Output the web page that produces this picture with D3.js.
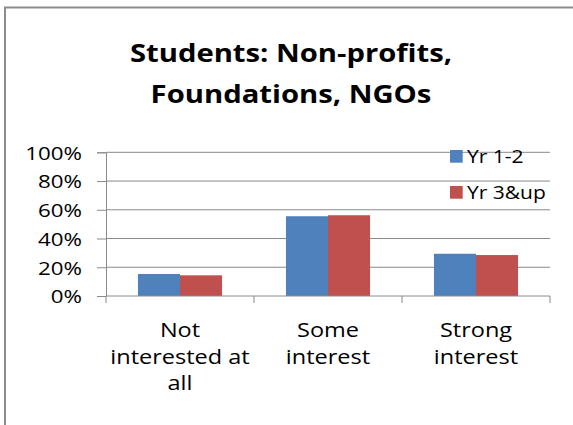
<!DOCTYPE html>
<html>
<head>
<meta charset="utf-8">
<script src="https://cdn.jsdelivr.net/npm/d3@7"></script>
<style>
    body { margin: 0; background: #fff; }
    text { font-family: "Open Sans", sans-serif; fill: #000; }
</style>
</head>
<body>
<svg width="573" height="425"></svg>
<script>
// chart data
let categories = [["Not", "interested at", "all"], ["Some", "interest"], ["Strong", "interest"]];
let series = ["Yr 1-2", "Yr 3&up"];
let yr12 = [0.153, 0.555, 0.294];
let yr3up = [0.144, 0.562, 0.285];
let yTicks = [0, 0.2, 0.4, 0.6, 0.8, 1.0];
let titleLines = ["Students: Non-profits,", "Foundations, NGOs"];
let colors = ["#4f81bd", "#c0504d"];

const stretch = 1.2; // reference text is wider than the font
let svg = d3.select("svg");

// outer frame
svg.append("rect")
    .attr("x", 5).attr("y", 7.5)
    .attr("width", 620).attr("height", 460)
    .attr("fill", "#fff").attr("stroke", "#8c8c8c").attr("stroke-width", 2);

// title
svg.append("g").selectAll("text").data(titleLines).enter().append("text")
    .attr("transform", (d, i) => `translate(291,${62 + i * 40.5}) scale(1.17,1)`)
    .attr("text-anchor", "middle")
    .style("font-weight", "bold").style("font-size", "25px")
    .text(d => d);

let plotL = 106, plotR = 550, plotT = 152.3, plotB = 296;
let catIdx = categories.map((c, i) => i);

let x0 = d3.scaleBand().domain(catIdx).range([plotL, plotR]);
let x1 = d3.scaleBand().domain(series).range([0, x0.bandwidth()]).paddingOuter(0.76);
let y = d3.scaleLinear().domain([0, 1]).range([plotB, plotT]);

// gridlines
svg.append("g").selectAll("line").data(yTicks.slice(1)).enter().append("line")
    .attr("x1", plotL).attr("x2", plotR)
    .attr("y1", d => y(d)).attr("y2", d => y(d))
    .attr("stroke", "#8a8a8a").attr("stroke-width", 1);

// bars
let rows = catIdx.map(i => ({i: i, vals: [yr12[i], yr3up[i]]}));
let groups = svg.append("g").selectAll("g").data(rows).enter().append("g")
    .attr("transform", d => `translate(${x0(d.i)},0)`);
groups.selectAll("rect").data(d => d.vals.map((v, s) => ({s: s, v: v}))).enter().append("rect")
    .attr("x", d => x1(series[d.s]))
    .attr("width", x1.bandwidth())
    .attr("y", d => y(d.v))
    .attr("height", d => y(0) - y(d.v))
    .attr("fill", d => colors[d.s]);

// y axis
let yAxis = svg.append("g").attr("transform", `translate(${plotL},0)`)
    .call(d3.axisLeft(y).tickValues(yTicks).tickFormat(d3.format(".0%")).tickSize(9).tickPadding(15));
yAxis.select(".domain").attr("stroke", "#8a8a8a");
yAxis.selectAll(".tick line").attr("stroke", "#8a8a8a");
yAxis.selectAll(".tick text")
    .attr("x", null).attr("dy", null)
    .attr("transform", `translate(-24,6.8) scale(${stretch},1)`)
    .style("font-size", "18.6px").style("font-family", "Open Sans").attr("fill", "#000");

// x axis with ticks on category boundaries
let xAxis = svg.append("g").attr("transform", `translate(0,${plotB})`);
xAxis.append("line").attr("x1", plotL).attr("x2", plotR).attr("stroke", "#8a8a8a");
xAxis.selectAll(".bt").data(d3.range(categories.length + 1)).enter().append("line")
    .attr("x1", d => plotL + d * x0.bandwidth()).attr("x2", d => plotL + d * x0.bandwidth())
    .attr("y1", 0).attr("y2", 7).attr("stroke", "#8a8a8a");

let labels = svg.append("g").selectAll("g").data(rows).enter().append("g")
    .attr("transform", d => `translate(${x0(d.i) + x0.bandwidth() / 2},0)`);
labels.selectAll("text").data(d => categories[d.i]).enter().append("text")
    .attr("transform", (d, k) => `translate(0,${337 + k * 26.5}) scale(${stretch},1)`)
    .attr("text-anchor", "middle").style("font-size", "19.6px")
    .text(d => d);

// legend
let legend = svg.append("g").selectAll("g").data(series).enter().append("g")
    .attr("transform", (d, i) => `translate(450,${150 + i * 36})`);
legend.append("rect").attr("width", 12.7).attr("height", 12.7).attr("fill", (d, i) => colors[i]);
legend.append("text")
    .attr("transform", `translate(17,12.7) scale(${stretch},1)`)
    .style("font-size", "17.5px")
    .text(d => d);
</script>
</body>
</html>
